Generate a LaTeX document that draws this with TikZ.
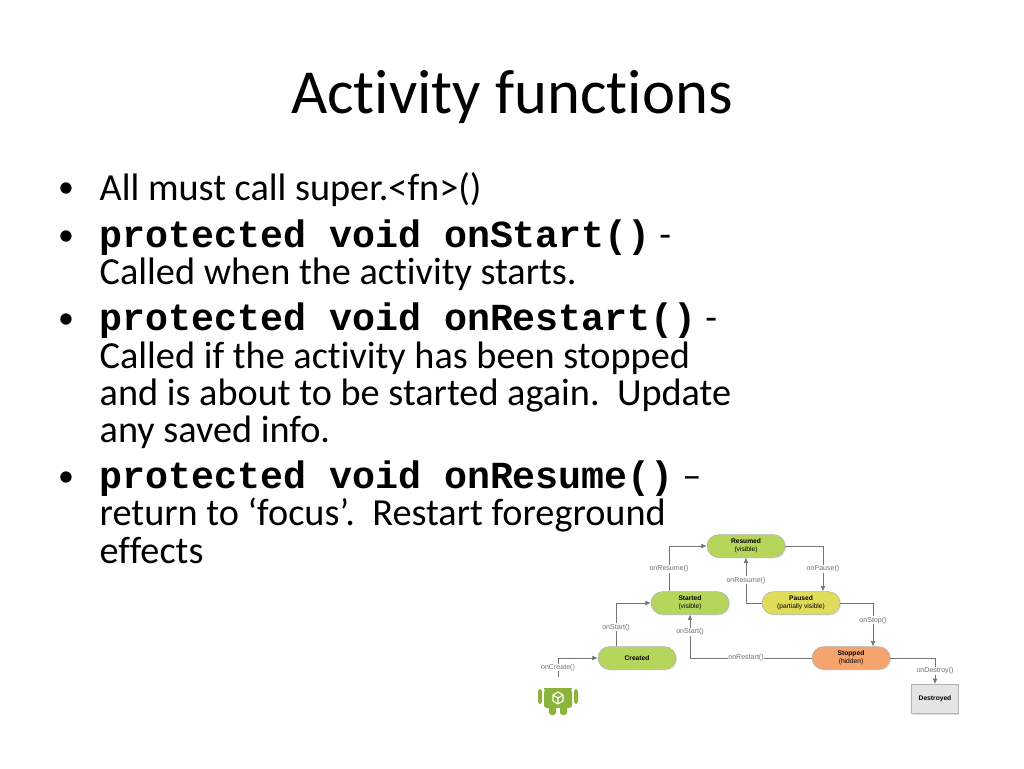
\documentclass[tikz,border=0pt]{standalone}
\usepackage{fontspec}
\setmainfont[Ligatures=NoCommon]{Carlito}
\setsansfont{Liberation Sans}
\setmonofont{Liberation Mono}
\usetikzlibrary{shadows,arrows.meta}
\definecolor{lg}{HTML}{B5D65A}
\definecolor{yl}{HTML}{E0DC5A}
\definecolor{og}{HTML}{F5A46E}
\definecolor{lbl}{HTML}{707070}
\definecolor{andr}{HTML}{8CB43A}
\begin{document}
\begin{tikzpicture}[x=0.75pt,y=-0.75pt]
\useasboundingbox (0,0) rectangle (1024,768);
\tikzset{
 st/.style={rounded corners=8.5pt,draw=black!30,minimum width=58.5pt,minimum height=17pt,inner sep=0pt,font=\sffamily\fontsize{5}{6}\selectfont,align=center,drop shadow={opacity=0.25,shadow xshift=0.8pt,shadow yshift=-0.8pt}},
 lb/.style={fill=white,inner sep=0.5pt,text=lbl,font=\sffamily\fontsize{5.3}{6}\selectfont},
 ar/.style={draw=black!55,line width=0.5pt,-{Latex[length=4pt,width=3.5pt]}},
 bt/.style={anchor=west,font=\fontsize{28.7}{32}\selectfont},
 bu/.style={anchor=center,font=\fontsize{24}{28}\selectfont},
}
\node (title) at (512,97) {\fontsize{47}{54}\selectfont Activity functions};
% body text
\node[bu] (b1) at (66,190) {•};
\node[bt] (t1) at (95,190) {All must call super.<fn>()};
\node[bu] (b2) at (66,238) {•};
\node[bt] (t2) at (95,238) {\texttt{\bfseries protected void onStart()} -};
\node[bt] (t3) at (95,274) {Called when the activity starts.};
\node[bu] (b3) at (66,321) {•};
\node[bt] (t4) at (95,321) {\texttt{\bfseries protected void onRestart()} -};
\node[bt] (t5) at (95,358) {Called if the activity has been stopped};
\node[bt] (t6) at (95,395) {and is about to be started again.\ \ Update};
\node[bt] (t7) at (95,432) {any saved info.};
\node[bu] (b4) at (66,479) {•};
\node[bt] (t8) at (95,479) {\texttt{\bfseries protected void onResume()} –};
\node[bt] (t9) at (95,515) {return to ‘focus’.\ \ Restart foreground};
\node[bt] (t10) at (95,551) {effects};
% states
\node[st,fill=lg] (res) at (746,546) {\textbf{Resumed}\\(visible)};
\node[st,fill=lg] (sta) at (690,603) {\textbf{Started}\\(visible)};
\node[st,fill=yl] (pau) at (801,603) {\textbf{Paused}\\(partially visible)};
\node[st,fill=lg] (cre) at (637,658) {\textbf{Created}};
\node[st,fill=og] (sto) at (851,658) {\textbf{Stopped}\\(hidden)};
\node[st,rounded corners=0pt,fill=black!10,minimum width=35pt,minimum height=22pt] (des) at (935,699) {\textbf{Destroyed}};
% android
\begin{scope}[fill=andr]
\fill (544,688) arc (180:0:14 and 11) -- cycle;
\fill[rounded corners=2pt] (544,690) rectangle (572,708);
\fill[rounded corners=2pt] (549,704) rectangle (556,715);
\fill[rounded corners=2pt] (560,704) rectangle (567,715);
\fill[rounded corners=2pt] (538,689) rectangle (542,704);
\fill[rounded corners=2pt] (574,689) rectangle (578,704);
\fill[white] (552,683) circle (1.2);
\fill[white] (564,683) circle (1.2);
\draw[white,line width=0.8pt] (553,695) -- (558,692) -- (563,695) -- (563,701) -- (558,704) -- (553,701) -- cycle (553,695) -- (558,698) -- (563,695) (558,698) -- (558,704);
\end{scope}
\coordinate (and) at (558,677);
% connectors
\draw[ar] (and) |- (cre.west) node[lb,pos=0.25] {onCreate()};
\draw[ar] (cre.north -| 616,0) |- (sta.west) node[lb,pos=0.22] {onStart()};
\draw[ar] (sta.north -| 669,0) |- (res.west) node[lb,pos=0.25] {onResume()};
\draw[ar] (res.east) -| (pau.north -| 823,0) node[lb,pos=0.75] {onPause()};
\draw[ar] (pau.west) -| (res.south) node[lb,pos=0.75] {onResume()};
\draw[ar] (pau.east) -| (sto.north -| 873,0) node[lb,pos=0.7] {onStop()};
\draw[ar] (sto.west) -| (sta.south) node[lb,pos=0.27] {onRestart()} node[lb,pos=0.8] {onStart()};
\draw[ar] (sto.east) -| (des.north) node[lb,pos=0.75] {onDestroy()};
\end{tikzpicture}
\end{document}
